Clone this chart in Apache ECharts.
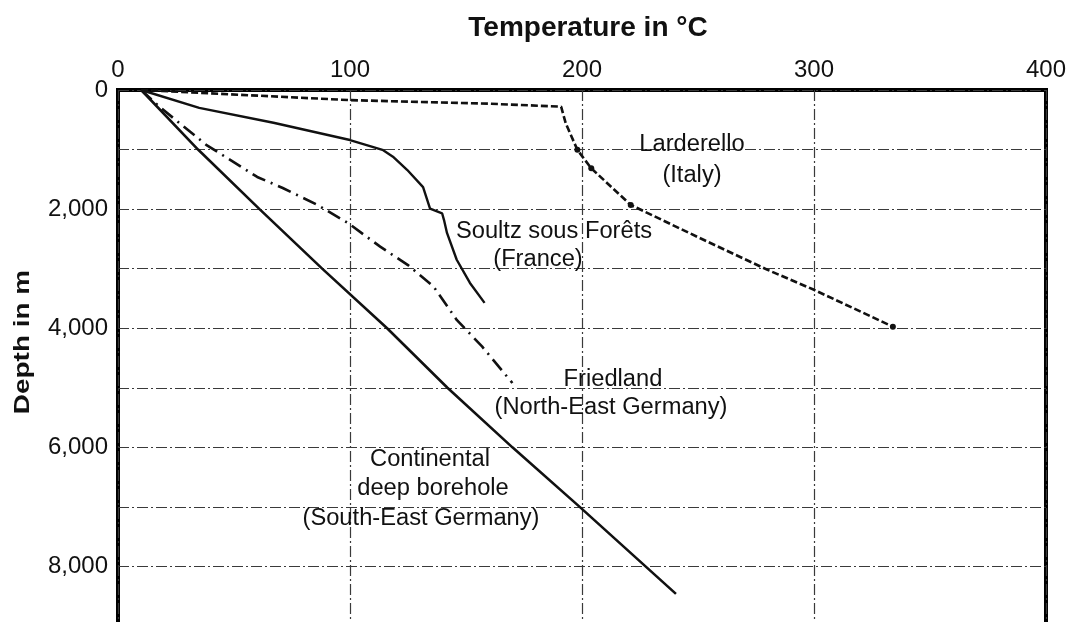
<!DOCTYPE html>
<html>
<head>
<meta charset="utf-8">
<script src="https://cdn.jsdelivr.net/npm/echarts@6/dist/echarts.min.js"></script>
<style>
html,body{margin:0;padding:0;background:#fff;}
#chart{width:1069px;height:622px;}
</style>
</head>
<body>
<div id="chart"></div>
<script>
// Temperature (°C), Depth (m)
var larderelloTemp  = [10, 100, 160, 191, 193, 198, 204, 221, 251, 280, 300, 334];
var larderelloDepth = [0, 170, 230, 280, 560, 1005, 1315, 1930, 2490, 3020, 3355, 3975];
var larderelloDots  = [5, 6, 7, 11];

var soultzTemp  = [10, 35, 67, 100, 114, 118.5, 124.6, 131.5, 134.5, 139.7, 140.5, 141.8, 146, 151.7, 158];
var soultzDepth = [0, 300, 550, 840, 1005, 1120, 1340, 1630, 1990, 2070, 2180, 2400, 2850, 3240, 3575];

var friedlandTemp  = [10, 18, 38, 60, 71, 86, 99, 113, 125, 136, 146, 157, 170];
var friedlandDepth = [0, 285, 920, 1460, 1645, 1930, 2230, 2630, 2940, 3300, 3860, 4310, 4920];

var continentalTemp  = [10, 34.5, 61, 88, 116, 142, 170, 199, 240.5];
var continentalDepth = [0, 1000, 2000, 3000, 4000, 5000, 6000, 7000, 8460];

var xTicks = [0, 100, 200, 300, 400];
var yTicks = [0, 2000, 4000, 6000, 8000];

function pairs(t, d) { return t.map(function (v, i) { return [v, d[i]]; }); }

var FONT = 'Liberation Sans, Arial, Helvetica, sans-serif';
var INK = '#111';
var gridLine = { color: '#3a3a3a', width: 1.2, type: [11, 3, 2, 3] };

var chart = echarts.init(document.getElementById('chart'), null, { renderer: 'canvas' });

function txt(text, x, y, size, bold, extra) {
  var o = {
    type: 'text', x: x, y: y, z: 100,
    style: {
      text: text, fill: INK, font: (bold ? 'bold ' : '') + size + 'px ' + FONT,
      textAlign: 'center', textVerticalAlign: 'middle'
    }
  };
  if (extra) for (var k in extra) o[k] = extra[k];
  return o;
}
var ann = { scaleX: 1.03 };

var option = {
  backgroundColor: '#fff',
  animation: false,
  grid: {
    left: 118, top: 90, width: 928, height: 536,
    outerBoundsMode: 'none', containLabel: false,
    show: true, borderColor: '#000', borderWidth: 4, backgroundColor: 'transparent'
  },
  xAxis: {
    type: 'value', position: 'top', min: 0, max: 400, interval: 100,
    axisLine: { show: false }, axisTick: { show: false },
    axisLabel: {
      margin: 8, color: INK, fontSize: 24, fontFamily: FONT,
      formatter: function (v) { return xTicks.indexOf(v) >= 0 ? String(v) : ''; }
    },
    splitLine: { show: true, lineStyle: gridLine }
  },
  yAxis: {
    type: 'value', inverse: true, min: 0, max: 9000, interval: 1000,
    axisLine: { show: false }, axisTick: { show: false },
    axisLabel: {
      margin: 10, color: INK, fontSize: 24, fontFamily: FONT,
      formatter: function (v) {
        return yTicks.indexOf(v) >= 0 ? v.toLocaleString('en-US') : '';
      }
    },
    splitLine: { show: true, lineStyle: gridLine }
  },
  series: [
    {
      name: 'Continental deep borehole (South-East Germany)', type: 'line',
      data: pairs(continentalTemp, continentalDepth),
      showSymbol: false, lineStyle: { color: INK, width: 2.6, type: 'solid' }, z: 5
    },
    {
      name: 'Friedland (North-East Germany)', type: 'line',
      data: pairs(friedlandTemp, friedlandDepth),
      showSymbol: false, lineStyle: { color: INK, width: 2.6, type: [14, 6, 2, 6] }, z: 5
    },
    {
      name: 'Soultz sous Forêts (France)', type: 'line',
      data: pairs(soultzTemp, soultzDepth),
      showSymbol: false, lineStyle: { color: INK, width: 2.4, type: 'solid' }, z: 5
    },
    {
      name: 'Larderello (Italy)', type: 'line',
      data: pairs(larderelloTemp, larderelloDepth),
      symbol: 'circle',
      symbolSize: function (v, p) { return larderelloDots.indexOf(p.dataIndex) >= 0 ? 6 : 0; },
      itemStyle: { color: INK },
      lineStyle: { color: INK, width: 2.6, type: [7, 3] }, z: 5
    }
  ],
  graphic: [
    txt('Temperature in °C', 588, 28, 28, true),
    txt('Depth in m', 23, 342, 22, true, { rotation: Math.PI / 2, scaleX: 1.27 }),
    txt('Larderello', 692, 145, 23, false, ann),
    txt('(Italy)', 692, 176, 23, false, ann),
    txt('Soultz sous Forêts', 554, 232, 23, false, ann),
    txt('(France)', 538, 260, 23, false, ann),
    txt('Friedland', 613, 380, 23, false, ann),
    txt('(North-East Germany)', 611, 408, 23, false, ann),
    txt('Continental', 430, 460, 23, false, ann),
    txt('deep borehole', 433, 489, 23, false, ann),
    txt('(South-East Germany)', 421, 519, 23, false, ann)
  ]
};
chart.setOption(option);
</script>
</body>
</html>
